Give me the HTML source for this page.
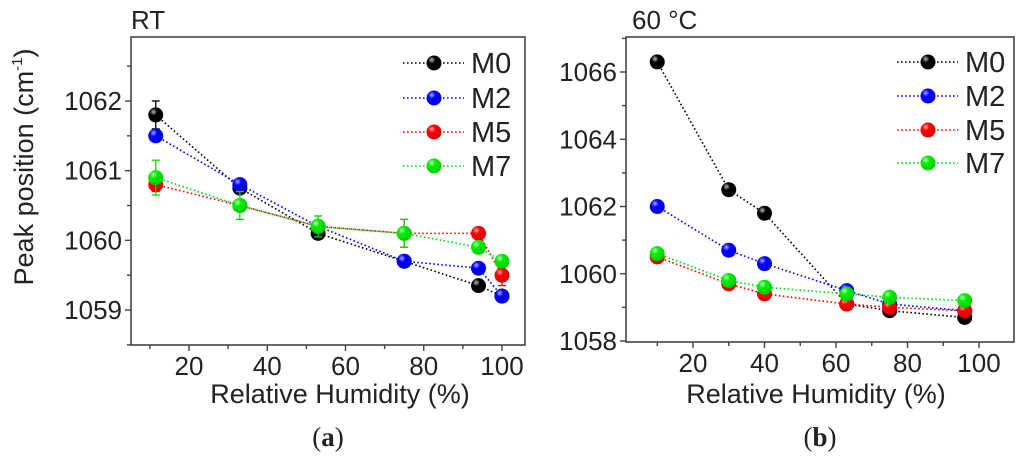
<!DOCTYPE html>
<html><head><meta charset="utf-8"><style>
body{margin:0;background:#fff;width:1024px;height:454px;overflow:hidden}
svg text{font-family:"Liberation Sans",sans-serif;fill:#222}
</style></head><body>
<svg id="fig" width="1024" height="454" viewBox="0 0 1024 454" xmlns="http://www.w3.org/2000/svg">
<defs>
<radialGradient id="gM0" cx="0.35" cy="0.3" r="0.7"><stop offset="0" stop-color="#bbb"/><stop offset="0.35" stop-color="#000"/><stop offset="1" stop-color="#000"/></radialGradient>
<radialGradient id="gM2" cx="0.35" cy="0.3" r="0.7"><stop offset="0" stop-color="#aaf"/><stop offset="0.35" stop-color="#0000ff"/><stop offset="1" stop-color="#0000dd"/></radialGradient>
<radialGradient id="gM5" cx="0.35" cy="0.3" r="0.7"><stop offset="0" stop-color="#faa"/><stop offset="0.35" stop-color="#ff0000"/><stop offset="1" stop-color="#dd0000"/></radialGradient>
<radialGradient id="gM7" cx="0.35" cy="0.3" r="0.7"><stop offset="0" stop-color="#bfb"/><stop offset="0.35" stop-color="#00ee00"/><stop offset="1" stop-color="#00cc00"/></radialGradient>
</defs>
</svg>
<script>
const seriesNames=["M0","M2","M5","M7"];
const seriesColors=["#000","#0000ff","#ff0000","#00dd00"];
const rtX=[11.5,33,53,75,94,100];
const rtM0=[1061.8,1060.75,1060.1,1059.7,1059.35,1059.2];
const rtM2=[1061.5,1060.8,1060.2,1059.7,1059.6,1059.2];
const rtM5=[1060.8,1060.5,1060.2,1060.1,1060.1,1059.5];
const rtM7=[1060.9,1060.5,1060.2,1060.1,1059.9,1059.7];
const rtErrM0=[0.2,0.05,0.05,0.05,0.05,0.05];
const rtErrM2=[0.08,0.05,0.05,0.05,0.05,0.05];
const rtErrM5=[0.1,0.05,0.05,0.2,0.05,0.15];
const rtErrM7=[0.25,0.2,0.15,0.2,0.05,0.05];
const htX=[10,30,40,63,75,96];
const htM0=[1066.3,1062.5,1061.8,1059.1,1058.9,1058.7];
const htM2=[1062.0,1060.7,1060.3,1059.5,1059.1,1058.9];
const htM5=[1060.5,1059.7,1059.4,1059.1,1059.0,1058.9];
const htM7=[1060.6,1059.8,1059.6,1059.4,1059.3,1059.2];
const rtYTicks=[1059,1060,1061,1062];
const htYTicks=[1058,1060,1062,1064,1066];
const xTicks=[20,40,60,80,100];

const svg=document.getElementById('fig');
const NS="http://www.w3.org/2000/svg";
function mk(tag,attrs,parent){const e=document.createElementNS(NS,tag);for(const k in attrs)e.setAttribute(k,attrs[k]);(parent||svg).appendChild(e);return e;}

function panel(cfg){
  const g=mk('g',{});
  
  
  const L=cfg.L,R=cfg.R,T=cfg.T,B=cfg.B;
  const sx=v=>cfg.x0px+(v-cfg.x0)*(cfg.x1px-cfg.x0px)/(cfg.x1-cfg.x0);
  const sy=v=>cfg.y0px+(v-cfg.y0)*(cfg.y1px-cfg.y0px)/(cfg.y1-cfg.y0);
  const frame=mk('rect',{x:L,y:T,width:R-L,height:B-T,fill:'none',stroke:'#444','stroke-width':1.6},g);
  
  
  for(let v=10;v<=110;v+=10){const px=sx(v);if(px<L||px>R)continue;
    const major=v%20===0;
    mk('line',{x1:px,x2:px,y1:B,y2:B+(major?6:4),stroke:'#444','stroke-width':1.4},g);}
  xTicks.forEach(v=>{const t=mk('text',{x:sx(v),y:B+30,'font-size':26,'text-anchor':'middle'},g);t.textContent=v;
    });
  const st=cfg.yStep/2;
  for(let v=cfg.yTicks[0]-st*2;v<=cfg.yTicks[cfg.yTicks.length-1]+st*2;v+=st){const py=sy(v);if(py<T||py>B+0.5)continue;
    const major=Math.abs((v-cfg.yTicks[0])/cfg.yStep-Math.round((v-cfg.yTicks[0])/cfg.yStep))<0.01;
    mk('line',{x1:L-(major?6:4),x2:L,y1:py,y2:py,stroke:'#444','stroke-width':1.4},g);}
  cfg.yTicks.forEach(v=>{const t=mk('text',{x:L-9,y:sy(v)+9,'font-size':26,'text-anchor':'end'},g);t.textContent=v;
    });
  const xt=mk('text',{x:(L+R)/2+cfg.xtOff,y:403,'font-size':27,'text-anchor':'middle'},g);xt.textContent=cfg.xTitle;
  xt.setAttribute('xml:space','preserve');
  const tt=mk('text',{x:cfg.titleX,y:29,'font-size':26},g);tt.textContent=cfg.title;
  
  const cap=mk('text',{x:(L+R)/2,y:446,'font-size':27,'text-anchor':'middle',style:'font-family:"Liberation Serif",serif'},g);
  cap.innerHTML='(<tspan font-weight="bold">'+cfg.cap+'</tspan>)';
  
  cfg.series.forEach((ys,i)=>{
    const sg=mk('g',{},g);
    
    
    const pts=cfg.xs.map((x,j)=>sx(x)+','+sy(ys[j])).join(' ');
    mk('polyline',{points:pts,fill:'none',stroke:seriesColors[i],'stroke-width':1.6,'stroke-dasharray':'1.6 2.4'},sg);
    cfg.xs.forEach((x,j)=>{
      if(cfg.errs){const e=cfg.errs[i][j];const px=sx(x);
        const y1=sy(ys[j]+e),y2=sy(ys[j]-e);
        mk('line',{x1:px,x2:px,y1:y1,y2:y2,stroke:seriesColors[i],'stroke-width':1.3},sg);
        mk('line',{x1:px-4,x2:px+4,y1:y1,y2:y1,stroke:seriesColors[i],'stroke-width':1.3},sg);
        mk('line',{x1:px-4,x2:px+4,y1:y2,y2:y2,stroke:seriesColors[i],'stroke-width':1.3},sg);}
      const c=mk('circle',{cx:sx(x),cy:sy(ys[j]),r:7.5,fill:'url(#g'+seriesNames[i]+')'},sg);
      
      
    });
    const lg=mk('g',{},g);
    
    
    const ly=cfg.legY[i];
    mk('line',{x1:cfg.legX,x2:cfg.legX+61,y1:ly,y2:ly,stroke:seriesColors[i],'stroke-width':1.6,'stroke-dasharray':'1.6 2.4'},lg);
    mk('circle',{cx:cfg.legX+31,cy:ly,r:7.5,fill:'url(#g'+seriesNames[i]+')'},lg);
    const lt=mk('text',{x:cfg.legX+68,y:ly+10,'font-size':29},lg);lt.textContent=seriesNames[i];
  });
}
panel({name:'chart-rt',L:131,R:525,T:37,B:345,x0:20,x1:100,x0px:189,x1px:502,y0:1059,y1:1062,y0px:310,y1px:101,
  yTicks:rtYTicks,yStep:1,xs:rtX,series:[rtM0,rtM2,rtM5,rtM7],errs:[rtErrM0,rtErrM2,rtErrM5,rtErrM7],
  xTitle:'Relative Humidity  (%)',xtOff:12,title:'RT',titleX:131,cap:'a',legX:403,legY:[63,98,132,166]});
panel({name:'chart-60c',L:626,R:1014,T:37,B:342,x0:20,x1:100,x0px:693,x1px:979,y0:1058,y1:1066,y0px:341,y1px:72,
  yTicks:htYTicks,yStep:2,xs:htX,series:[htM0,htM2,htM5,htM7],errs:null,
  xTitle:'Relative Humidity (%)',xtOff:-4,title:'60 °C',titleX:632,cap:'b',legX:897,legY:[62,96,130,163]});
const yt=mk('text',{transform:'translate(33,167) rotate(-90)','font-size':27,'text-anchor':'middle'});
yt.innerHTML='Peak position (cm<tspan font-size="15" dy="-11">-1</tspan><tspan dy="11">)</tspan>';


</script>
</body></html>
